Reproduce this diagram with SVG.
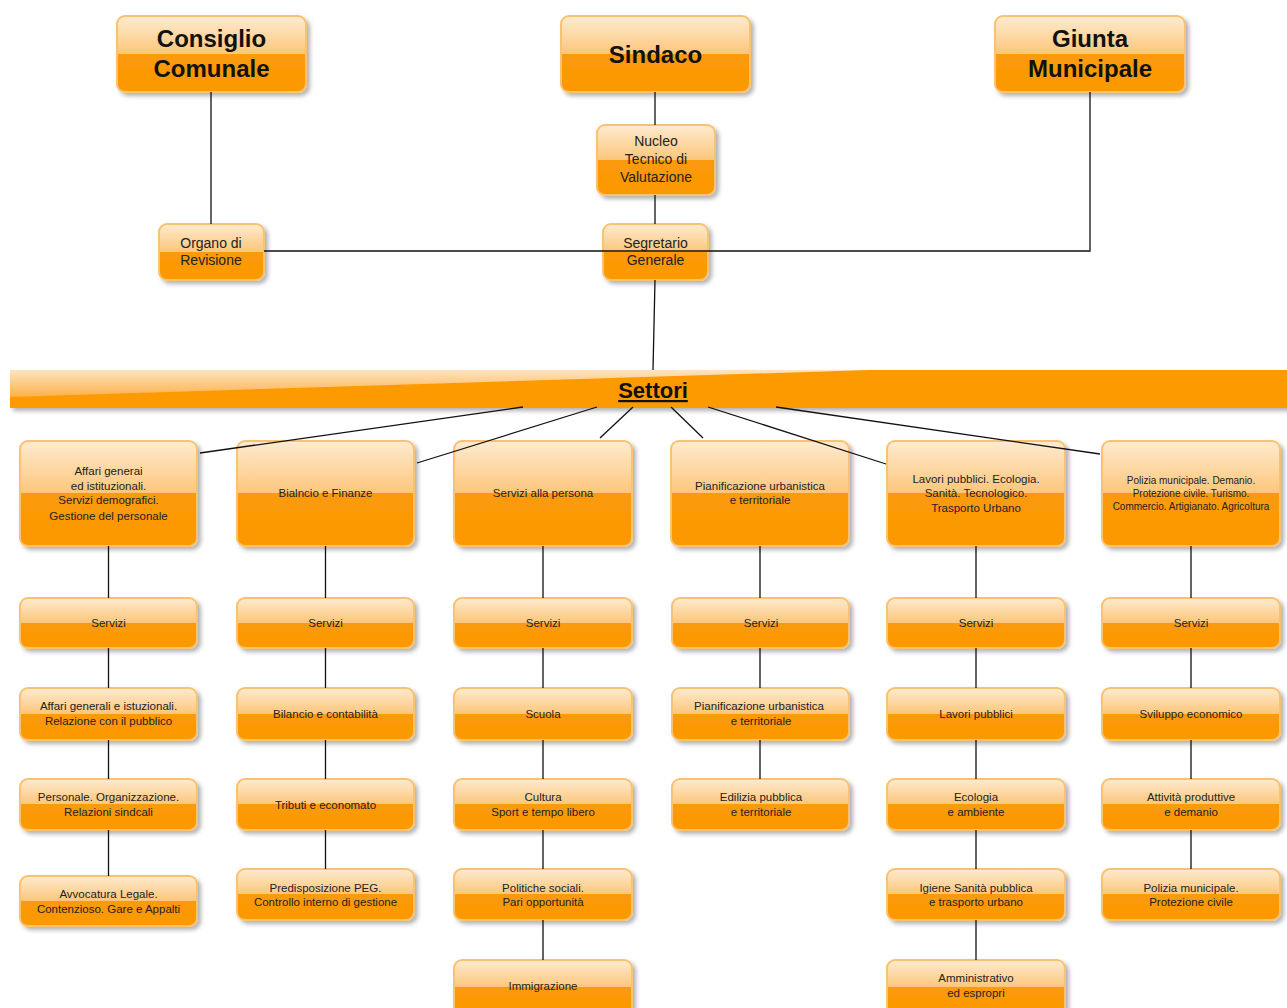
<svg xmlns="http://www.w3.org/2000/svg" width="1287" height="1008" viewBox="0 0 1287 1008">
<defs>
<linearGradient id="g" x1="0" y1="0" x2="0" y2="1">
<stop offset="0" stop-color="#feebd0"/>
<stop offset="0.5" stop-color="#fcc67a"/>
<stop offset="0.5" stop-color="#fc9a0a"/>
<stop offset="1" stop-color="#fc9800"/>
</linearGradient>
<linearGradient id="hl" x1="0" y1="0" x2="0" y2="1">
<stop offset="0" stop-color="#fee4c0"/>
<stop offset="1" stop-color="#fcb04a"/>
</linearGradient>
<filter id="sh" x="-10%" y="-10%" width="125%" height="130%">
<feDropShadow dx="3" dy="3" stdDeviation="2" flood-color="#000" flood-opacity="0.3"/>
</filter>
<style>
.b{fill:url(#g);stroke:#f7c272;stroke-width:2;filter:url(#sh)}
.t{font-family:"Liberation Sans",Arial,sans-serif;fill:#222;text-anchor:middle}
.big{font-size:24px;font-weight:bold;fill:#111}
.mid{font-size:14px}
.sm{font-size:11.5px}
.xs{font-size:10px}
.c{stroke:#111;stroke-width:1.3;fill:none}
</style>
</defs>

<g id="consiglio"><rect class="b" x="117" y="16" width="189" height="76" rx="8"/>
<text class="t big" x="211.5" y="47">Consiglio</text><text class="t big" x="211.5" y="77">Comunale</text></g>
<g id="sindaco"><rect class="b" x="561" y="16" width="189" height="76" rx="8"/>
<text class="t big" x="655.5" y="63">Sindaco</text></g>
<g id="giunta"><rect class="b" x="995" y="16" width="190" height="76" rx="8"/>
<text class="t big" x="1090" y="47">Giunta</text><text class="t big" x="1090" y="77">Municipale</text></g>
<g id="nucleo"><rect class="b" x="597" y="125" width="118" height="70" rx="8"/>
<text class="t mid" x="656" y="146">Nucleo</text><text class="t mid" x="656" y="164">Tecnico di</text><text class="t mid" x="656" y="182">Valutazione</text></g>
<g id="organo"><rect class="b" x="159" y="224" width="105" height="56" rx="8"/>
<text class="t mid" x="211" y="248">Organo di</text><text class="t mid" x="211" y="265">Revisione</text></g>
<g id="segretario"><rect class="b" x="603" y="224" width="105" height="56" rx="8"/>
<text class="t mid" x="655.5" y="248">Segretario</text><text class="t mid" x="655.5" y="265">Generale</text></g>

<g id="settori">
<rect x="10" y="370" width="1290" height="38" fill="#fc9a00" filter="url(#sh)"/>
<path d="M10,370 L870,370 L10,397 Z" fill="url(#hl)"/>
<text class="t" x="653" y="398" style="font-size:22px;font-weight:bold;text-decoration:underline;fill:#111">Settori</text>
</g>

<g id="s1"><rect class="b" x="20" y="441" width="177" height="105" rx="8"/>
<text class="t sm" x="108.5" y="475">Affari generai</text><text class="t sm" x="108.5" y="490">ed istituzionali.</text><text class="t sm" x="108.5" y="504">Servizi demografici.</text><text class="t sm" x="108.5" y="520">Gestione del personale</text></g>
<g id="s2"><rect class="b" x="237" y="441" width="177" height="105" rx="8"/>
<text class="t sm" x="325.5" y="497">Bialncio e Finanze</text></g>
<g id="s3"><rect class="b" x="454" y="441" width="178" height="105" rx="8"/>
<text class="t sm" x="543" y="497">Servizi alla persona</text></g>
<g id="s4"><rect class="b" x="671" y="441" width="178" height="105" rx="8"/>
<text class="t sm" x="760" y="490">Pianificazione urbanistica</text><text class="t sm" x="760" y="504">e territoriale</text></g>
<g id="s5"><rect class="b" x="887" y="441" width="178" height="105" rx="8"/>
<text class="t sm" x="976" y="483">Lavori pubblici. Ecologia.</text><text class="t sm" x="976" y="497">Sanità. Tecnologico.</text><text class="t sm" x="976" y="512">Trasporto Urbano</text></g>
<g id="s6"><rect class="b" x="1102" y="441" width="178" height="105" rx="8"/>
<text class="t xs" x="1191" y="484">Polizia municipale. Demanio.</text><text class="t xs" x="1191" y="497">Protezione civile. Turismo.</text><text class="t xs" x="1191" y="510">Commercio. Artigianato. Agricoltura</text></g>

<g id="c1r2"><rect class="b" x="20" y="598" width="177" height="50" rx="8"/><text class="t sm" x="108.5" y="627">Servizi</text></g>
<g id="c1r3"><rect class="b" x="20" y="688" width="177" height="52" rx="8"/><text class="t sm" x="108.5" y="710">Affari generali e istuzionali.</text><text class="t sm" x="108.5" y="725">Relazione con il pubblico</text></g>
<g id="c1r4"><rect class="b" x="20" y="779" width="177" height="51" rx="8"/><text class="t sm" x="108.5" y="801">Personale. Organizzazione.</text><text class="t sm" x="108.5" y="816">Relazioni sindcali</text></g>
<g id="c1r5"><rect class="b" x="20" y="876" width="177" height="50" rx="8"/><text class="t sm" x="108.5" y="898">Avvocatura Legale.</text><text class="t sm" x="108.5" y="913">Contenzioso. Gare e Appalti</text></g>

<g id="c2r2"><rect class="b" x="237" y="598" width="177" height="50" rx="8"/><text class="t sm" x="325.5" y="627">Servizi</text></g>
<g id="c2r3"><rect class="b" x="237" y="688" width="177" height="52" rx="8"/><text class="t sm" x="325.5" y="718">Bilancio e contabilità</text></g>
<g id="c2r4"><rect class="b" x="237" y="779" width="177" height="51" rx="8"/><text class="t sm" x="325.5" y="809">Tributi e economato</text></g>
<g id="c2r5"><rect class="b" x="237" y="869" width="177" height="51" rx="8"/><text class="t sm" x="325.5" y="892">Predisposizione PEG.</text><text class="t sm" x="325.5" y="906">Controllo interno di gestione</text></g>

<g id="c3r2"><rect class="b" x="454" y="598" width="178" height="50" rx="8"/><text class="t sm" x="543" y="627">Servizi</text></g>
<g id="c3r3"><rect class="b" x="454" y="688" width="178" height="52" rx="8"/><text class="t sm" x="543" y="718">Scuola</text></g>
<g id="c3r4"><rect class="b" x="454" y="779" width="178" height="51" rx="8"/><text class="t sm" x="543" y="801">Cultura</text><text class="t sm" x="543" y="816">Sport e tempo libero</text></g>
<g id="c3r5"><rect class="b" x="454" y="869" width="178" height="51" rx="8"/><text class="t sm" x="543" y="892">Politiche sociali.</text><text class="t sm" x="543" y="906">Pari opportunità</text></g>
<g id="c3r6"><rect class="b" x="454" y="960" width="178" height="55" rx="8"/><text class="t sm" x="543" y="990">Immigrazione</text></g>

<g id="c4r2"><rect class="b" x="672" y="598" width="177" height="50" rx="8"/><text class="t sm" x="761" y="627">Servizi</text></g>
<g id="c4r3"><rect class="b" x="672" y="688" width="177" height="52" rx="8"/><text class="t sm" x="759" y="710">Pianificazione urbanistica</text><text class="t sm" x="761" y="725">e territoriale</text></g>
<g id="c4r4"><rect class="b" x="672" y="779" width="177" height="51" rx="8"/><text class="t sm" x="761" y="801">Edilizia pubblica</text><text class="t sm" x="761" y="816">e territoriale</text></g>

<g id="c5r2"><rect class="b" x="887" y="598" width="178" height="50" rx="8"/><text class="t sm" x="976" y="627">Servizi</text></g>
<g id="c5r3"><rect class="b" x="887" y="688" width="178" height="52" rx="8"/><text class="t sm" x="976" y="718">Lavori pubblici</text></g>
<g id="c5r4"><rect class="b" x="887" y="779" width="178" height="51" rx="8"/><text class="t sm" x="976" y="801">Ecologia</text><text class="t sm" x="976" y="816">e ambiente</text></g>
<g id="c5r5"><rect class="b" x="887" y="869" width="178" height="51" rx="8"/><text class="t sm" x="976" y="892">Igiene Sanità pubblica</text><text class="t sm" x="976" y="906">e trasporto urbano</text></g>
<g id="c5r6"><rect class="b" x="887" y="960" width="178" height="55" rx="8"/><text class="t sm" x="976" y="982">Amministrativo</text><text class="t sm" x="976" y="997">ed espropri</text></g>

<g id="c6r2"><rect class="b" x="1102" y="598" width="178" height="50" rx="8"/><text class="t sm" x="1191" y="627">Servizi</text></g>
<g id="c6r3"><rect class="b" x="1102" y="688" width="178" height="52" rx="8"/><text class="t sm" x="1191" y="718">Sviluppo economico</text></g>
<g id="c6r4"><rect class="b" x="1102" y="779" width="178" height="51" rx="8"/><text class="t sm" x="1191" y="801">Attività produttive</text><text class="t sm" x="1191" y="816">e demanio</text></g>
<g id="c6r5"><rect class="b" x="1102" y="869" width="178" height="51" rx="8"/><text class="t sm" x="1191" y="892">Polizia municipale.</text><text class="t sm" x="1191" y="906">Protezione civile</text></g>

<g id="connectors">
<line class="c" x1="211" y1="92" x2="211" y2="224"/>
<line class="c" x1="655" y1="92" x2="655" y2="125"/>
<line class="c" x1="655" y1="195" x2="655" y2="224"/>
<polyline class="c" points="1090,92 1090,251 264,251"/>
<line class="c" x1="655" y1="280" x2="653" y2="370"/>
<line class="c" x1="523" y1="407" x2="200" y2="453"/>
<line class="c" x1="597" y1="407" x2="417" y2="463"/>
<line class="c" x1="633" y1="407" x2="600" y2="438"/>
<line class="c" x1="671" y1="407" x2="703" y2="438"/>
<line class="c" x1="708" y1="407" x2="886" y2="464"/>
<line class="c" x1="776" y1="407" x2="1100" y2="454"/>
<path class="c" d="M108.5,546V598M108.5,648V688M108.5,740V779M108.5,830V876"/>
<path class="c" d="M325.5,546V598M325.5,648V688M325.5,740V779M325.5,830V869"/>
<path class="c" d="M543,546V598M543,648V688M543,740V779M543,830V869M543,920V960"/>
<path class="c" d="M760,546V598M760,648V688M760,740V779"/>
<path class="c" d="M976,546V598M976,648V688M976,740V779M976,830V869M976,920V960"/>
<path class="c" d="M1191,546V598M1191,648V688M1191,740V779M1191,830V869"/>
</g>
</svg>
